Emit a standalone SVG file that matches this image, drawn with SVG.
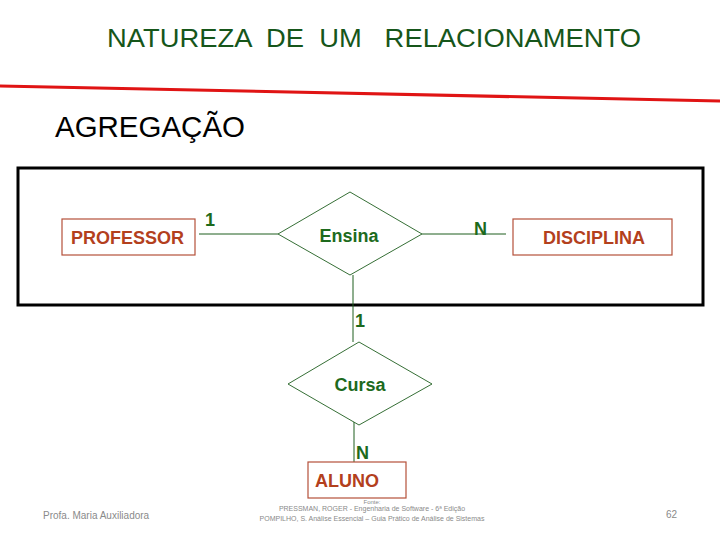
<svg xmlns="http://www.w3.org/2000/svg" width="720" height="540" viewBox="0 0 720 540">
<style>
  .ent rect { fill: #fff; stroke: #b5503a; stroke-width: 1.2; }
  .ent text { fill: #b3401d; font-family: "Liberation Sans", "Open Sans", sans-serif; font-size: 18px; font-weight: bold; }
  .rel polygon { fill: #fff; stroke: #1e5e1e; stroke-width: 0.9; }
  .rel text { fill: #1d6a1d; font-family: "Liberation Sans", "Open Sans", sans-serif; font-size: 18px; font-weight: bold; text-anchor: middle; }
  .conn line { stroke: #1e5e1e; stroke-width: 1; }
  .card { fill: #1d6a1d; font-family: "Liberation Sans", "Open Sans", sans-serif; font-size: 18px; font-weight: bold; }
  .foot { fill: #8a8a8a; font-family: "Liberation Sans", "Open Sans", sans-serif; }
</style>
<rect width="720" height="540" fill="#fff"/>
<g id="title">
  <text x="107" y="47" textLength="534" lengthAdjust="spacingAndGlyphs" font-family="Liberation Sans, Open Sans, sans-serif" font-size="26" fill="#16561a" xml:space="preserve">NATUREZA  DE  UM   RELACIONAMENTO</text>
</g>
<g id="redline">
  <line x1="0" y1="86" x2="720" y2="101" stroke="#e01414" stroke-width="3"/>
</g>
<g id="heading">
  <text x="55" y="137" textLength="190" lengthAdjust="spacingAndGlyphs" font-family="Liberation Sans, Open Sans, sans-serif" font-size="29" fill="#000">AGREGAÇÃO</text>
</g>
<g id="aggregate">
  <rect x="18" y="168" width="685" height="137" fill="none" stroke="#000" stroke-width="3"/>
</g>
<g id="connectors" class="conn">
  <line x1="199" y1="234" x2="278" y2="234"/>
  <line x1="422" y1="234" x2="506" y2="234"/>
  <line x1="353" y1="275" x2="353" y2="342"/>
  <line x1="354" y1="421" x2="354" y2="462"/>
</g>
<g id="cardinalities">
  <text class="card" x="205" y="226">1</text>
  <text class="card" x="474" y="235">N</text>
  <text class="card" x="355" y="327">1</text>
  <text class="card" x="356" y="459">N</text>
</g>
<g id="professor" class="ent">
  <rect x="62" y="219" width="133" height="36"/>
  <text x="71" y="244">PROFESSOR</text>
</g>
<g id="ensina" class="rel">
  <polygon points="278,234 350,192 422,234 350,275"/>
  <text x="349" y="242">Ensina</text>
</g>
<g id="disciplina" class="ent">
  <rect x="513" y="219" width="159" height="36"/>
  <text x="543" y="244">DISCIPLINA</text>
</g>
<g id="cursa" class="rel">
  <polygon points="288,384 359,342 432,384 359,425"/>
  <text x="360" y="391">Cursa</text>
</g>
<g id="aluno" class="ent">
  <rect x="308" y="462" width="98" height="36"/>
  <text x="315" y="487">ALUNO</text>
</g>
<g id="footer">
  <text class="foot" x="372" y="504" font-size="6" text-anchor="middle">Fonte:</text>
  <text class="foot" x="372" y="511" font-size="7" text-anchor="middle">PRESSMAN, ROGER - Engenharia de Software - 6ª Edição</text>
  <text class="foot" x="372" y="521" font-size="7" text-anchor="middle">POMPILHO, S. Análise Essencial – Guia Prático de Análise de Sistemas</text>
  <text class="foot" x="43" y="519" font-size="10">Profa. Maria Auxiliadora</text>
  <text class="foot" x="666" y="518" font-size="10">62</text>
</g>
</svg>
